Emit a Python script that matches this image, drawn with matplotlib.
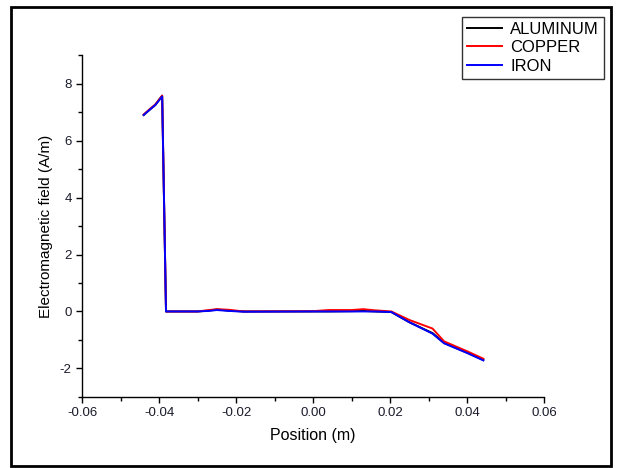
import matplotlib
matplotlib.use("Agg")
from matplotlib import pyplot as plt
from matplotlib.patches import Rectangle
from matplotlib.ticker import MultipleLocator, FormatStrFormatter

plt.rcParams["font.family"] = ["Liberation Sans", "DejaVu Sans"]
plt.rcParams["axes.unicode_minus"] = False

# Field profile along the sample axis for the three conductors.
position = [-0.0440, -0.0425, -0.0410, -0.0392, -0.0382, -0.0300, -0.0270,
            -0.0250, -0.0220, -0.0180, 0.0000, 0.0040, 0.0100, 0.0130,
            0.0160, 0.0203, 0.0250, 0.0310, 0.0340, 0.0400, 0.0442]
field_aluminum = [6.90, 7.08, 7.25, 7.58, 0.00, 0.00, 0.03, 0.07, 0.03, 0.00,
                  0.00, 0.00, 0.01, 0.02, 0.00, -0.02, -0.38, -0.76, -1.10,
                  -1.45, -1.70]
field_copper = [6.92, 7.10, 7.27, 7.58, 0.00, 0.00, 0.05, 0.08, 0.06, 0.00,
                0.01, 0.05, 0.05, 0.08, 0.04, 0.00, -0.30, -0.60, -1.05,
                -1.40, -1.66]
field_iron = [6.90, 7.08, 7.25, 7.55, 0.00, 0.00, 0.02, 0.05, 0.02, -0.01,
              0.00, 0.00, 0.00, 0.00, 0.00, -0.02, -0.38, -0.78, -1.12,
              -1.46, -1.72]

series = [
    ("ALUMINUM", field_aluminum, "black"),
    ("COPPER", field_copper, "#ff0000"),
    ("IRON", field_iron, "#0000ff"),
]

fig = plt.figure(figsize=(6.17, 4.68), dpi=100)
ax = fig.add_axes([0.133, 0.152, 0.749, 0.730])

for label, values, color in series:
    ax.plot(position, values, color=color, lw=1.4, label=label)

ax.set_xlim(-0.06, 0.06)
ax.set_ylim(-3, 9)
ax.xaxis.set_major_locator(MultipleLocator(0.02))
ax.xaxis.set_minor_locator(MultipleLocator(0.01))
ax.yaxis.set_major_locator(MultipleLocator(2))
ax.yaxis.set_minor_locator(MultipleLocator(1))
ax.xaxis.set_major_formatter(FormatStrFormatter("%.2f"))
ax.tick_params(which="both", direction="out", width=1.0, labelsize=9.5,
               colors="black", labelcolor="#1a1a2a")
ax.tick_params(which="major", length=4)
ax.tick_params(which="minor", length=3)
for side in ("top", "right"):
    ax.spines[side].set_visible(False)
for side in ("left", "bottom"):
    ax.spines[side].set_linewidth(1.0)

ax.set_xlabel("Position (m)", fontsize=11.5, labelpad=6)
ax.set_ylabel("Electromagnetic field (A/m)", fontsize=11, labelpad=5)

leg = fig.legend(loc="upper right", bbox_to_anchor=(604 / 617, 451 / 468),
                 fontsize=12, fancybox=False, edgecolor="black",
                 handlelength=2.1, handletextpad=0.5, borderpad=0.3,
                 labelspacing=0.2, borderaxespad=0)
leg.get_frame().set_linewidth(1.0)

# Black border around the whole figure
fig.patches.append(Rectangle((0.018, 0.004), 0.972, 0.981,
                             transform=fig.transFigure, fill=False,
                             edgecolor="black", lw=2.0))

fig.savefig("out.png", dpi=100)
